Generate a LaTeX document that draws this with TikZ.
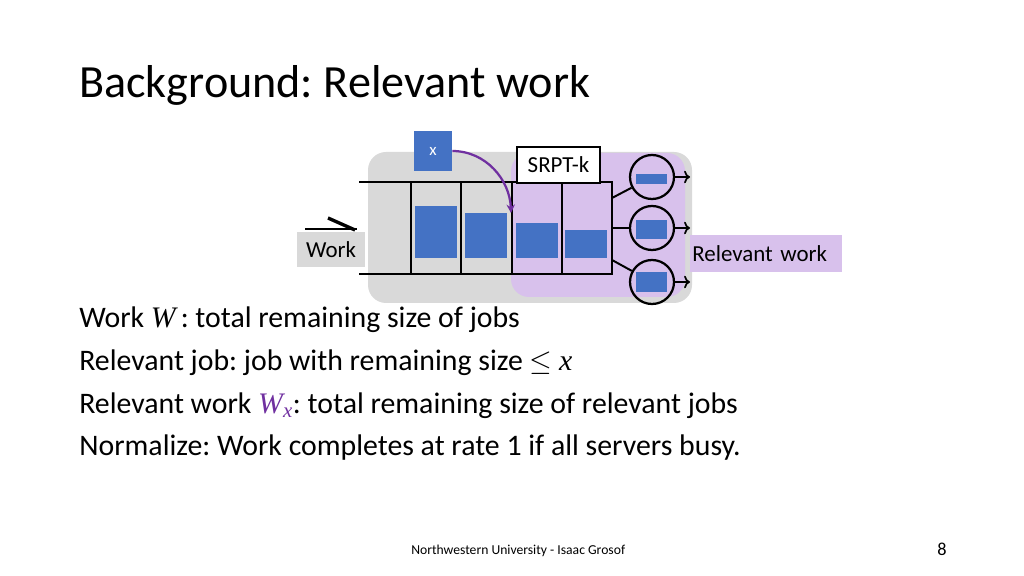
\documentclass[tikz,border=0pt]{standalone}
\usepackage{fontspec}
\setmainfont{Carlito}
\newfontfamily\mathfont{Liberation Serif}
\usetikzlibrary{arrows.meta}
\frenchspacing

\definecolor{bggray}{RGB}{217,217,217}
\definecolor{relpurple}{RGB}{216,193,236}
\definecolor{jobblue}{RGB}{68,114,196}
\definecolor{arrowpurple}{RGB}{112,48,160}

\tikzset{
    job/.style={fill=jobblue, draw=none, inner sep=0pt, minimum width=1.05cm},
    server/.style={circle, draw, line width=1.6pt, minimum size=1.1cm, inner sep=0pt},
    queueline/.style={line width=2pt},
    bodytext/.style={anchor=base west, inner sep=0pt, font=\fontsize{21.2}{25}\selectfont},
    labelbox/.style={inner sep=0pt, font=\fontsize{16.3}{19}\selectfont}
}

\begin{document}
\begin{tikzpicture}[x=0.025cm, y=-0.025cm]
    \useasboundingbox (0,0) rectangle (1024,576);

    % Title
    \node[anchor=base west, inner sep=0pt, font=\fontsize{32.8}{38}\selectfont] (title) at (79,98) {Background: Relevant work};

    % Backgrounds
    \fill[bggray, rounded corners=0.45cm] (368,152) rectangle (692,303);
    \fill[relpurple, rounded corners=0.45cm] (511,153) rectangle (685,297);

    % Work label
    \node[labelbox, fill=bggray, minimum width=1.7cm, minimum height=0.875cm] (worklabel) at (331,249.5) {Work};
    \draw[line width=0.8pt] (305,229) -- (357,229);
    \draw[line width=2.4pt] (328,218) -- (355,230);

    % Queue
    \draw[queueline] (359,182) -- (612,182) -- (612,274) -- (359,274);
    \draw[queueline] (411,182) -- (411,274);
    \draw[queueline] (461,182) -- (461,274);
    \draw[queueline] (512,182) -- (512,274);
    \draw[queueline] (562,182) -- (562,274);

    % Jobs in queue
    \node[job, minimum height=1.3cm] (job1) at (436,232) {};
    \node[job, minimum height=1.125cm] (job2) at (486,235.5) {};
    \node[job, minimum height=0.875cm] (job3) at (536.5,240.5) {};
    \node[job, minimum height=0.7cm] (job4) at (586,244) {};

    % Arriving job x
    \node[job, minimum width=0.95cm, minimum height=1cm, text=white, font=\fontsize{12}{14}\selectfont] (newjob) at (433,151) {x};
    \coordinate (drop) at (511,213);
    \draw[line width=1.6pt, arrowpurple, -{Stealth[length=6pt,width=6pt]}] (newjob.east) to[out=0, in=92] (drop);

    % SRPT-k label
    \node[labelbox, draw, line width=1.6pt, fill=white, minimum width=2.075cm, minimum height=0.9cm] (srpt) at (558.5,165) {SRPT-k};

    % Servers
    \node[job, minimum width=0.775cm, minimum height=0.25cm] (bar1) at (651.5,179) {};
    \node[job, minimum width=0.775cm, minimum height=0.475cm] (bar2) at (651.5,229.5) {};
    \node[job, minimum width=0.775cm, minimum height=0.5cm] (bar3) at (651.5,282) {};
    \node[server] (server1) at (652,177) {};
    \node[server] (server2) at (652,228) {};
    \node[server] (server3) at (652,282) {};

    \coordinate (qout1) at (612,198);
    \coordinate (qout2) at (612,228);
    \coordinate (qout3) at (612,260);
    \draw[line width=1.4pt] (qout1) -- (server1);
    \draw[line width=2pt] (qout2) -- (server2);
    \draw[line width=1.4pt] (qout3) -- (server3);

    \coordinate (done1) at (690,177);
    \coordinate (done2) at (690,228);
    \coordinate (done3) at (690,282);
    \draw[line width=1.2pt, ->] (server1) -- (done1);
    \draw[line width=1.2pt, ->] (server2) -- (done2);
    \draw[line width=1.2pt, ->] (server3) -- (done3);

    % Relevant work label
    \node[labelbox, fill=relpurple, anchor=west, minimum width=3.8cm, minimum height=0.925cm, text width=3.7cm, align=left, inner xsep=0.05cm] (rellabel) at (690,253.5) {Relevant work};

    % Bullet text
    \node[bodytext] (line1) at (79,327) {Work {\mathfont\itshape W}\,: total remaining size of jobs};
    \node[bodytext] (line2) at (79,370) {Relevant job: job with remaining size $\leq$ {\mathfont\itshape x}};
    \node[bodytext] (line3) at (79,413) {Relevant work {\mathfont\itshape\color{arrowpurple}W\textsubscript{x}}: total remaining size of relevant jobs};
    \node[bodytext] (line4) at (79,455) {Normalize: Work completes at rate 1 if all servers busy.};

    % Footer
    \node[anchor=base west, inner sep=0pt, font=\fontsize{9.7}{11}\selectfont] (footer) at (411,554) {Northwestern University - Isaac Grosof};
    \node[anchor=base, inner sep=0pt, font=\fontsize{13}{15}\selectfont] (pagenum) at (942,555) {8};

\end{tikzpicture}
\end{document}
